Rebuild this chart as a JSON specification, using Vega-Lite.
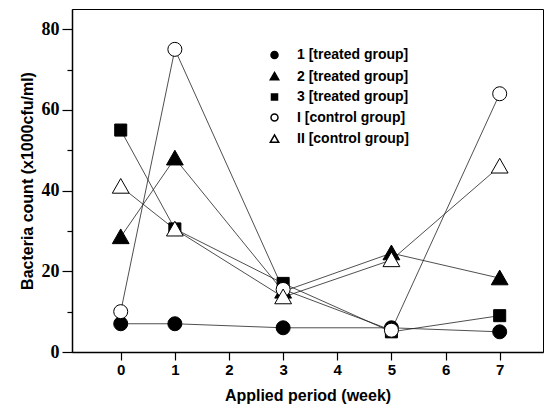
{
  "$schema": "https://vega.github.io/schema/vega-lite/v6.json",
  "autosize": {"type": "none"},
  "width": 471,
  "height": 343,
  "padding": {"left": 72, "top": 9, "right": 3, "bottom": 65},
  "background": "white",
  "config": {
    "view": {"stroke": "black", "strokeWidth": 1},
    "axis": {"grid": false, "domainColor": "black", "tickColor": "black", "domainWidth": 1.5, "tickWidth": 1.2, "labelColor": "black", "titleColor": "black"}
  },
  "data": {
    "values": [
      {"series": "1 [treated group]", "week": 0, "count": 7},
      {"series": "1 [treated group]", "week": 1, "count": 7},
      {"series": "1 [treated group]", "week": 3, "count": 6},
      {"series": "1 [treated group]", "week": 5, "count": 6},
      {"series": "1 [treated group]", "week": 7, "count": 5},
      {"series": "2 [treated group]", "week": 0, "count": 28.5},
      {"series": "2 [treated group]", "week": 1, "count": 48},
      {"series": "2 [treated group]", "week": 3, "count": 15},
      {"series": "2 [treated group]", "week": 5, "count": 24.5},
      {"series": "2 [treated group]", "week": 7, "count": 18.3},
      {"series": "3 [treated group]", "week": 0, "count": 55},
      {"series": "3 [treated group]", "week": 1, "count": 30.5},
      {"series": "3 [treated group]", "week": 3, "count": 17},
      {"series": "3 [treated group]", "week": 5, "count": 5},
      {"series": "3 [treated group]", "week": 7, "count": 9},
      {"series": "I [control group]", "week": 0, "count": 10},
      {"series": "I [control group]", "week": 1, "count": 75},
      {"series": "I [control group]", "week": 3, "count": 15.5},
      {"series": "I [control group]", "week": 5, "count": 5.4},
      {"series": "I [control group]", "week": 7, "count": 64},
      {"series": "II [control group]", "week": 0, "count": 41},
      {"series": "II [control group]", "week": 1, "count": 30.4},
      {"series": "II [control group]", "week": 3, "count": 13.6},
      {"series": "II [control group]", "week": 5, "count": 22.8},
      {"series": "II [control group]", "week": 7, "count": 46}
    ]
  },
  "layer": [
    {
      "mark": {"type": "line", "stroke": "#222", "strokeWidth": 0.8},
      "encoding": {
        "x": {
          "field": "week", "type": "quantitative",
          "scale": {"domain": [-0.9, 7.8], "nice": false, "zero": false},
          "axis": {
            "values": [0, 1, 2, 3, 4, 5, 6, 7],
            "title": "Applied period (week)",
            "titleFont": "Liberation Sans", "titleFontWeight": "bold", "titleFontSize": 16,
            "labelFont": "Liberation Sans", "labelFontWeight": "bold", "labelFontSize": 15,
            "tickSize": 8, "labelPadding": 2, "titlePadding": 10
          }
        },
        "y": {
          "field": "count", "type": "quantitative",
          "scale": {"domain": [0, 85], "nice": false},
          "axis": {
            "values": [0, 10, 20, 30, 40, 50, 60, 70, 80],
            "labelExpr": "datum.value % 20 == 0 ? datum.label : ''",
            "tickSize": {"condition": {"test": "datum.value % 20 == 0", "value": 10}, "value": 5},
            "title": "Bacteria count (x1000cfu/ml)",
            "titleFont": "Liberation Sans", "titleFontWeight": "bold", "titleFontSize": 16,
            "labelFont": "Liberation Serif, Times New Roman, DejaVu Serif, serif", "labelFontWeight": "bold", "labelFontSize": 18,
            "labelPadding": 3, "titlePadding": 6
          }
        },
        "detail": {"field": "series"}
      }
    },
    {
      "mark": {"type": "point", "filled": true, "stroke": "black", "strokeWidth": 1, "opacity": 1, "size": 196},
      "encoding": {
        "x": {"field": "week", "type": "quantitative"},
        "y": {"field": "count", "type": "quantitative"},
        "shape": {
          "field": "series", "type": "nominal",
          "scale": {
            "domain": ["1 [treated group]", "2 [treated group]", "3 [treated group]", "I [control group]", "II [control group]"],
            "range": ["circle", "M0,-1.15L1.2,0.95L-1.2,0.95Z", "M-0.86,-0.86H0.86V0.86H-0.86Z", "circle", "M0,-1.15L1.2,0.95L-1.2,0.95Z"]
          },
          "legend": {
            "title": null,
            "orient": "none",
            "legendX": 195.5,
            "legendY": 39,
            "rowPadding": 6.5,
            "labelFont": "Liberation Sans", "labelFontWeight": "bold", "labelFontSize": 14,
            "labelColor": "black",
            "labelOffset": 15.5,
            "symbolSize": 49
          }
        },
        "fill": {
          "field": "series", "type": "nominal",
          "scale": {
            "domain": ["1 [treated group]", "2 [treated group]", "3 [treated group]", "I [control group]", "II [control group]"],
            "range": ["black", "black", "black", "white", "white"]
          },
          "legend": null
        }
      }
    }
  ]
}
